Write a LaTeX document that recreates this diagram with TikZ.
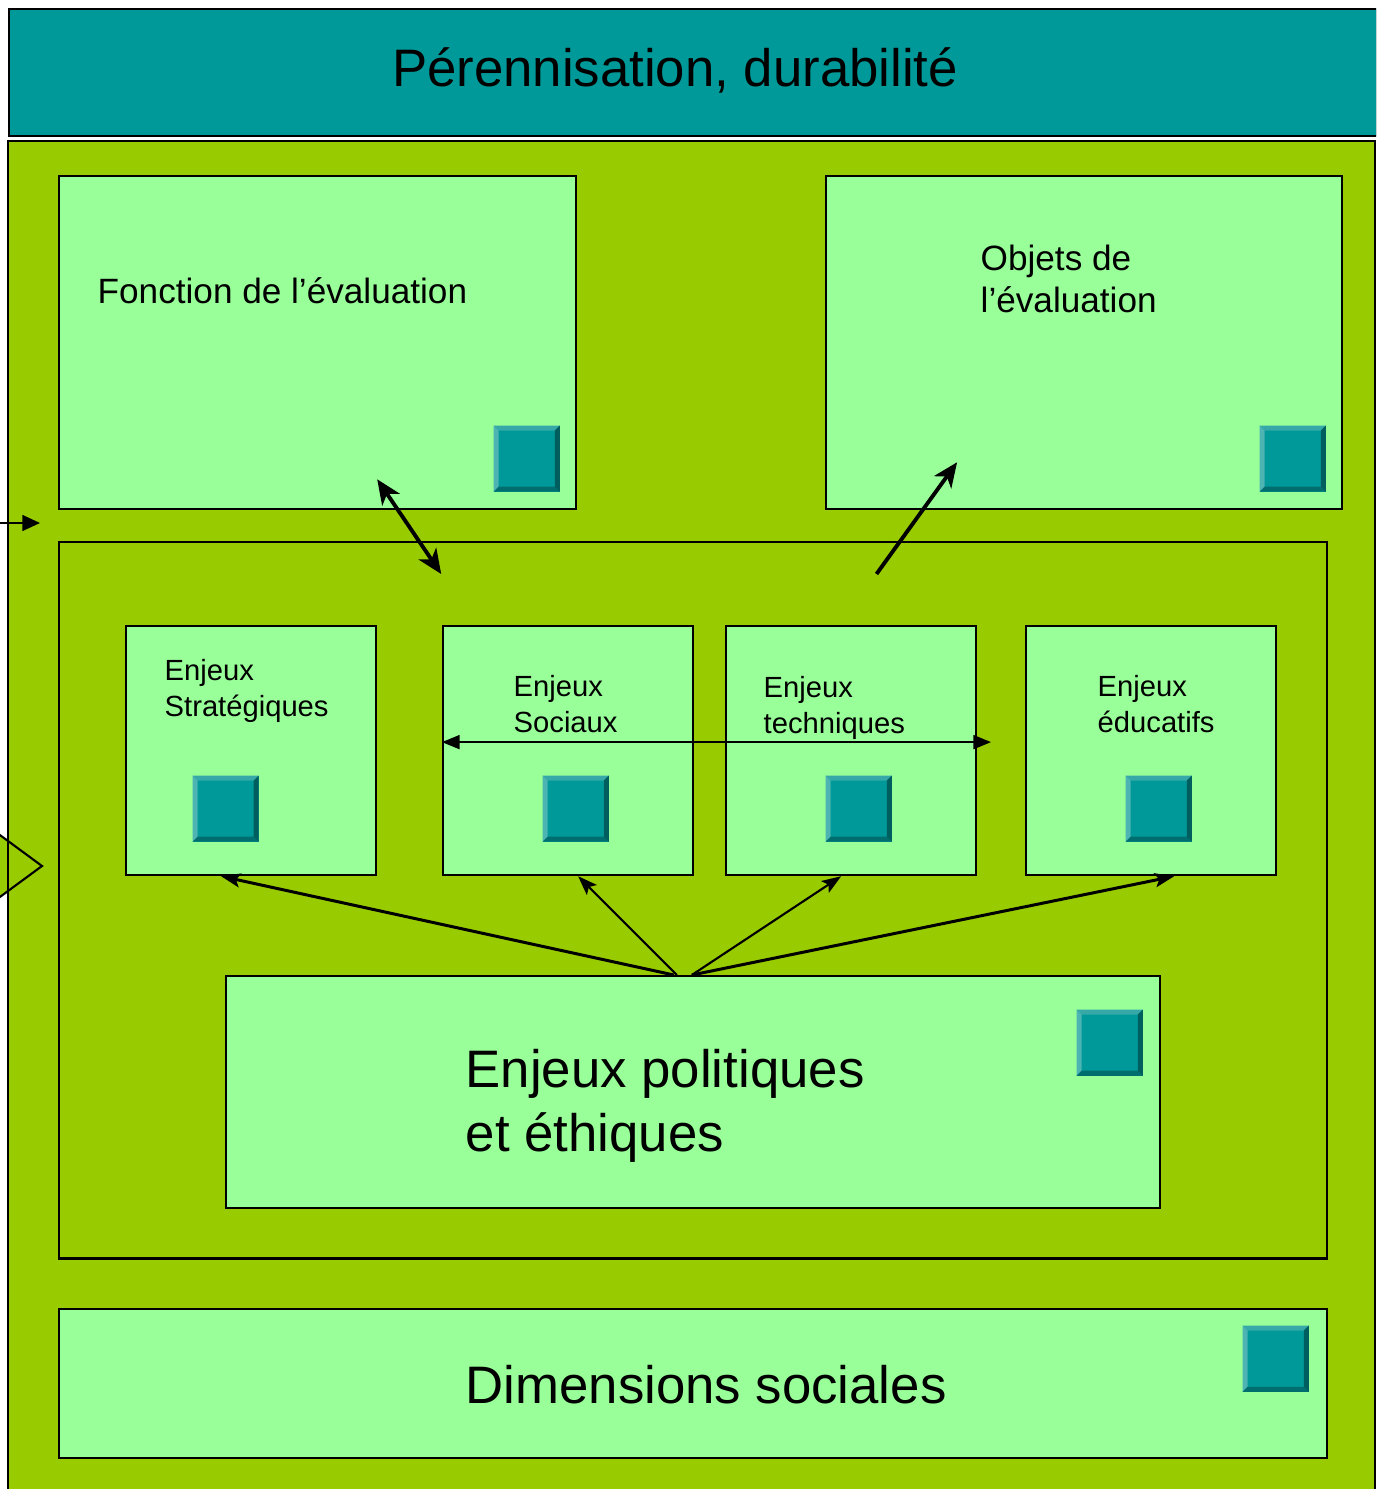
\documentclass[tikz,border=0pt]{standalone}
\usepackage{fontspec}
\setmainfont{Liberation Sans}
\usetikzlibrary{arrows.meta}
\definecolor{bleuvert}{HTML}{009999}
\definecolor{vertfonce}{HTML}{99CC00}
\definecolor{vertclair}{HTML}{99FF99}
\definecolor{biseauH}{HTML}{36A8A8}
\definecolor{biseauG}{HTML}{4DB3B3}
\definecolor{biseauB}{HTML}{006E6E}
\definecolor{biseauD}{HTML}{005E5E}
\tikzset{
    boite/.style={draw=black, line width=0.6pt, fill=vertclair, anchor=north west, inner sep=0pt},
    texte/.style={anchor=west, align=left, inner sep=0pt, text=black},
    bouton/.style={fill=bleuvert, anchor=north west, inner sep=0pt, minimum size=0.66cm,
        path picture={
            \fill[biseauH] (path picture bounding box.north west) -- (path picture bounding box.north east)
                -- ([shift={(-0.05cm,-0.05cm)}]path picture bounding box.north east)
                -- ([shift={(0.05cm,-0.05cm)}]path picture bounding box.north west) -- cycle;
            \fill[biseauG] (path picture bounding box.north west) -- (path picture bounding box.south west)
                -- ([shift={(0.05cm,0.05cm)}]path picture bounding box.south west)
                -- ([shift={(0.05cm,-0.05cm)}]path picture bounding box.north west) -- cycle;
            \fill[biseauB] (path picture bounding box.south west) -- (path picture bounding box.south east)
                -- ([shift={(-0.05cm,0.05cm)}]path picture bounding box.south east)
                -- ([shift={(0.05cm,0.05cm)}]path picture bounding box.south west) -- cycle;
            \fill[biseauD] (path picture bounding box.north east) -- (path picture bounding box.south east)
                -- ([shift={(-0.05cm,0.05cm)}]path picture bounding box.south east)
                -- ([shift={(-0.05cm,-0.05cm)}]path picture bounding box.north east) -- cycle;
        }},
    grosse/.style={line width=1.1pt},
    rayon/.style={-{Stealth[length=5.5pt,width=4pt,inset=1.2pt]}, line width=#1},
    rayon/.default=0.85pt,
}

\begin{document}
\begin{tikzpicture}[x=0.01cm,y=-0.01cm]
    \useasboundingbox (0,0) rectangle (1376,1489);
    \clip (0,0) rectangle (1376,1489);

    % bandeau du haut
    \node[boite, fill=bleuvert, minimum width=13.67cm, minimum height=1.27cm] (titre) at (8,8) {};
    \node[inner sep=0pt, font=\fontsize{15pt}{18pt}\selectfont] (titretxt) at (675,70) {Pérennisation, durabilité};

    % fond vert
    \draw[fill=vertfonce, line width=0.6pt] (8,141) rectangle (1375,1530);
    \draw[fill=vertfonce, line width=0.6pt] (-30,813) -- (42,866) -- (-30,919);
    \draw[line width=0.6pt] (8,141) -- (8,1530);
    \coordinate (gauche) at (0,523);
    \coordinate (entree) at (40,523);
    \draw[-{Triangle[length=5pt,width=4.5pt]}, line width=0.5pt] (gauche) -- (entree);

    % fonction et objets
    \node[boite, minimum width=5.17cm, minimum height=3.33cm] (fonc) at (58,175) {};
    \node[texte, font=\fontsize{10pt}{12pt}\selectfont] (fonctxt) at (97,291) {Fonction de l’évaluation};
    \node[bouton] (bfonc) at (493,425) {};

    \node[boite, minimum width=5.16cm, minimum height=3.33cm] (obj) at (825,175) {};
    \node[texte, font=\fontsize{10pt}{12pt}\selectfont] (objtxt) at (980,279) {Objets de\\l’évaluation};
    \node[bouton] (bobj) at (1259,425) {};

    % cadre des enjeux
    \node[boite, fill=vertfonce, minimum width=12.67cm, minimum height=7.16cm] (milieu) at (58,541) {};

    \node[boite, minimum width=2.5cm, minimum height=2.49cm] (strat) at (125,625) {};
    \node[boite, minimum width=2.5cm, minimum height=2.49cm] (soc) at (442,625) {};
    \node[boite, minimum width=2.5cm, minimum height=2.49cm] (tech) at (725,625) {};
    \node[boite, minimum width=2.5cm, minimum height=2.49cm] (edu) at (1025,625) {};

    \node[texte, font=\fontsize{8.3pt}{10.2pt}\selectfont] (strattxt) at (164,691) {Enjeux\\Stratégiques};
    \node[texte, font=\fontsize{8.3pt}{10.2pt}\selectfont] (soctxt) at (513,704) {Enjeux\\Sociaux};
    \node[texte, font=\fontsize{8.3pt}{10.2pt}\selectfont] (techtxt) at (763,708) {Enjeux\\techniques};
    \node[texte, font=\fontsize{8.3pt}{10.2pt}\selectfont] (edutxt) at (1097,704) {Enjeux\\éducatifs};

    \node[bouton] (bstrat) at (192,775) {};
    \node[bouton] (bsoc) at (542,775) {};
    \node[bouton] (btech) at (825,775) {};
    \node[bouton] (bedu) at (1125,775) {};

    \node[boite, minimum width=9.33cm, minimum height=2.32cm] (pol) at (225,975) {};
    \node[texte, font=\fontsize{15pt}{18.2pt}\selectfont] (poltxt) at (465,1106) {Enjeux politiques\\et éthiques};
    \node[bouton] (bpol) at (1076,1009) {};

    % dimensions sociales
    \node[boite, minimum width=12.67cm, minimum height=1.49cm] (dim) at (58,1308) {};
    \node[texte, font=\fontsize{15pt}{18pt}\selectfont] (dimtxt) at (465,1385) {Dimensions sociales};
    \node[bouton] (bdim) at (1242,1325) {};

    % fleches
    \draw[grosse, {Stealth[length=7pt,width=6pt,inset=2pt]}-{Stealth[length=7pt,width=6pt,inset=2pt]}]
        ([shift={(3.19cm,0.31cm)}]fonc.south west) -- ([shift={(3.83cm,-0.33cm)}]milieu.north west);
    \draw[grosse, -{Stealth[length=7pt,width=6pt,inset=2pt]}]
        ([shift={(8.18cm,-0.33cm)}]milieu.north west) -- ([shift={(1.32cm,0.48cm)}]obj.south west);
    \draw[{Triangle[length=5pt,width=4pt]}-{Triangle[length=5pt,width=4pt]}, line width=0.45pt]
        ([yshift=0.085cm]soc.west) -- ([shift={(-0.34cm,0.085cm)}]edu.west);
    \draw[rayon] ([xshift=-0.19cm]pol.north) -- ([xshift=-0.3cm]strat.south);
    \draw[rayon=0.6pt] ([xshift=-0.16cm]pol.north) -- ([xshift=0.1cm]soc.south);
    \draw[rayon=0.6pt] ([xshift=-0.01cm]pol.north) -- ([xshift=-0.1cm]tech.south);
    \draw[rayon] ([xshift=-0.01cm]pol.north) -- ([xshift=0.23cm]edu.south);
\end{tikzpicture}
\end{document}
